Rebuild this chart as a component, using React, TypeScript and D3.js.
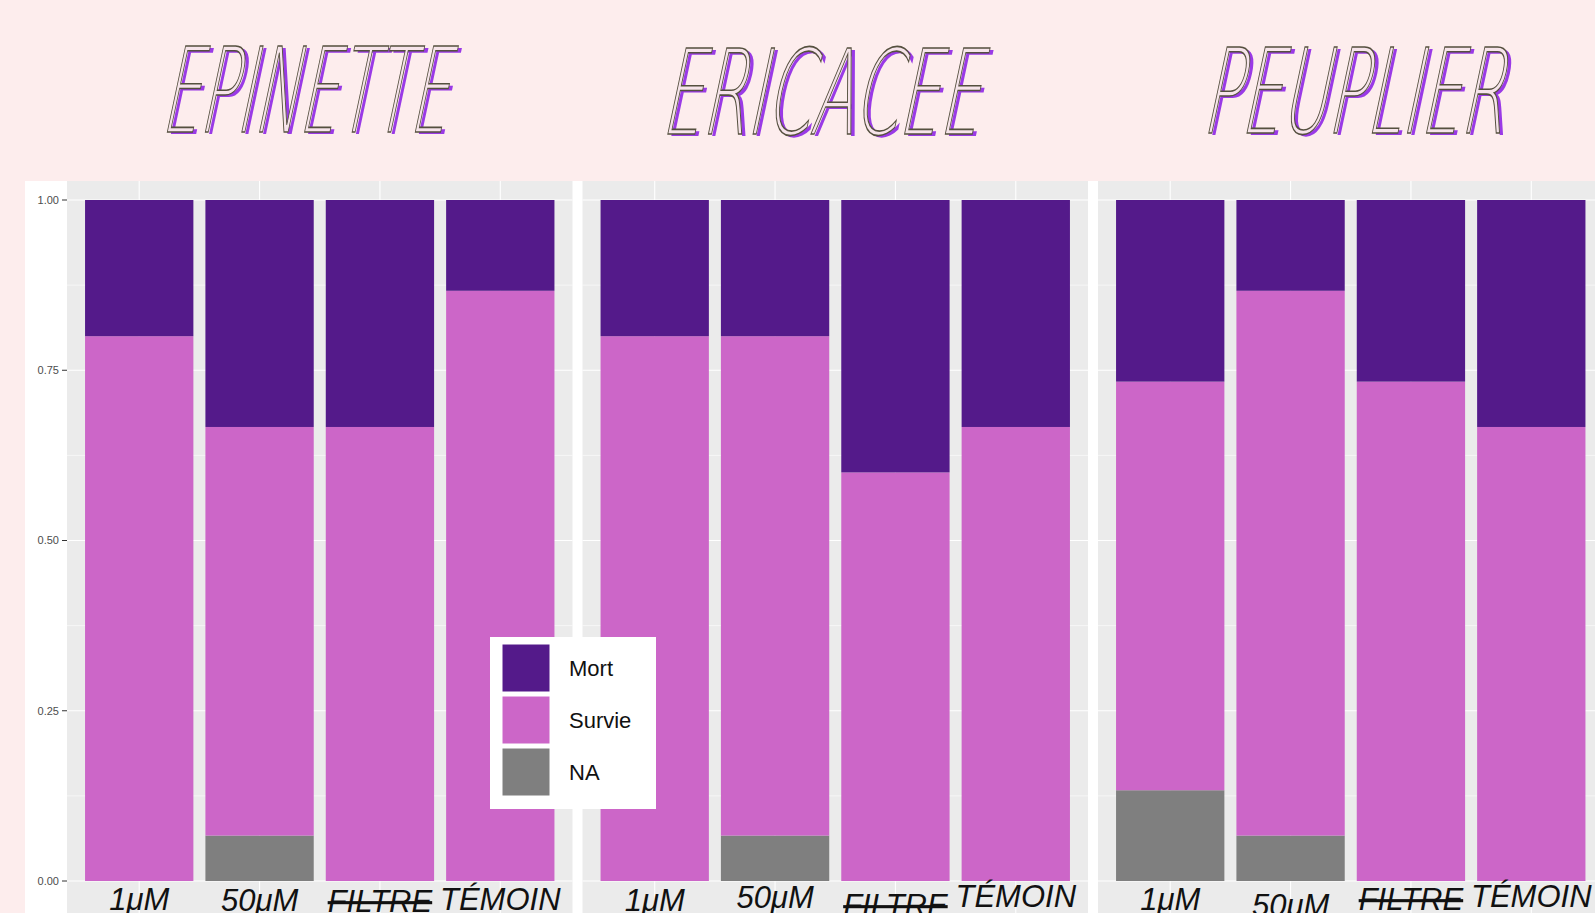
import React from "react";
import * as d3 from "d3";

// facets, categories and proportions
const sites = ["EPINETTE", "ERICACEE", "PEUPLIER"];
const treatments = ["1μM", "50μM", "FILTRE", "TÉMOIN"];
const statuses = ["NA", "Survie", "Mort"]; // bottom to top
const legendOrder = ["Mort", "Survie", "NA"];

const naValues = [
  [0, 0.0667, 0, 0],
  [0, 0.0667, 0, 0],
  [0.1333, 0.0667, 0, 0],
];
const survieValues = [
  [0.8, 0.6, 0.6667, 0.8667],
  [0.8, 0.7333, 0.6, 0.6667],
  [0.6, 0.8, 0.7333, 0.6667],
];
const mortValues = [
  [0.2, 0.3333, 0.3333, 0.1333],
  [0.2, 0.2, 0.4, 0.3333],
  [0.2667, 0.1333, 0.2667, 0.3333],
];
const yTicks = [0, 0.25, 0.5, 0.75, 1];
const yMinor = [0.125, 0.375, 0.625, 0.875];

const colors: Record<string, string> = {
  Mort: "#541a8a",
  Survie: "#cc66c8",
  NA: "#7f7f7f",
};

// title geometry (decorative font stand-in)
const titleBoxes = [
  { x: 160, y: 132, w: 286 },
  { x: 660, y: 134, w: 318 },
  { x: 1201, y: 133, w: 302 },
];
// small vertical nudges of the hand-placed x labels
const labelNudge = [
  [0, 1, 2, 0],
  [1, -2, 6, -3],
  [0, 6, 0, -3],
];

export default function App() {
  const W = 1595;
  const H = 913;
  const panelW = 505.5;
  const gap = 10;
  const panelX0 = 67;
  const panelTop = 181;
  const y = d3.scaleLinear().domain([0, 1]).range([881, 200]);

  const rows = sites.map((s, i) =>
    treatments.map((t, j) => ({
      site: s,
      treatment: t,
      NA: naValues[i][j],
      Survie: survieValues[i][j],
      Mort: mortValues[i][j],
    }))
  );

  const stack = d3.stack<any>().keys(statuses);

  return (
    <svg width={W} height={H} style={{ position: "absolute", left: 0, top: 0 }}>
      <rect x={0} y={0} width={W} height={H} fill="#fdeded" />
      <rect x={25} y={panelTop} width={W - 25} height={H - panelTop} fill="#ffffff" />

      {/* y axis */}
      {yTicks.map((t) => (
        <g key={t}>
          <line x1={62} x2={67} y1={y(t)} y2={y(t)} stroke="#333" strokeWidth={1} />
          <text
            x={59}
            y={y(t)}
            dy="0.35em"
            textAnchor="end"
            fontFamily="Liberation Sans, Arial, sans-serif"
            fontSize={11}
            fill="#4d4d4d"
          >
            {d3.format(".2f")(t)}
          </text>
        </g>
      ))}

      {sites.map((site, i) => {
        const px = panelX0 + i * (panelW + gap);
        const x = d3
          .scaleBand()
          .domain(treatments)
          .range([px, px + panelW])
          .paddingInner(0.1)
          .paddingOuter(0.15);
        const series = stack(rows[i]);
        const tb = titleBoxes[i];
        return (
          <g key={site}>
            <rect x={px} y={panelTop} width={panelW} height={H - panelTop} fill="#ebebeb" />
            {yMinor.map((t) => (
              <line key={t} x1={px} x2={px + panelW} y1={y(t)} y2={y(t)} stroke="#fff" strokeWidth={0.6} />
            ))}
            {yTicks.map((t) => (
              <line key={t} x1={px} x2={px + panelW} y1={y(t)} y2={y(t)} stroke="#fff" strokeWidth={1.1} />
            ))}
            {treatments.map((t) => (
              <line
                key={t}
                x1={x(t)! + x.bandwidth() / 2}
                x2={x(t)! + x.bandwidth() / 2}
                y1={panelTop}
                y2={H}
                stroke="#fff"
                strokeWidth={1.1}
              />
            ))}
            {series.map((s) =>
              s.map((d: any) =>
                d[1] - d[0] > 0 ? (
                  <rect
                    key={s.key + d.data.treatment}
                    x={x(d.data.treatment)}
                    y={y(d[1])}
                    width={x.bandwidth()}
                    height={y(d[0]) - y(d[1])}
                    fill={colors[s.key]}
                  />
                ) : null
              )
            )}
            {treatments.map((t, j) => (
              <text
                key={t}
                x={x(t)! + x.bandwidth() / 2}
                y={910 + labelNudge[i][j]}
                textAnchor="middle"
                fontFamily="Liberation Sans, Arial, sans-serif"
                fontStyle="italic"
                fontSize={31}
                fill="#111"
                textDecoration={t === "FILTRE" ? "line-through" : undefined}
              >
                {t}
              </text>
            ))}

            {/* title */}
            <g transform={`translate(${tb.x},${tb.y}) skewX(-12)`}>
              <text
                x={4}
                y={2}
                fontFamily="DejaVu Sans, sans-serif"
                fontWeight={200}
                fontSize={118}
                textLength={tb.w}
                lengthAdjust="spacingAndGlyphs"
                fill="#9a3ae6"
              >
                {site}
              </text>
              <text
                x={0}
                y={0}
                fontFamily="DejaVu Sans, sans-serif"
                fontWeight={200}
                fontSize={118}
                textLength={tb.w}
                lengthAdjust="spacingAndGlyphs"
                fill="#f6e4ea"
                stroke="#55503f"
                strokeWidth={1.6}
              >
                {site}
              </text>
            </g>
          </g>
        );
      })}

      {/* legend */}
      <g transform="translate(490,637)">
        <rect x={0} y={0} width={166} height={172} fill="#ffffff" />
        {legendOrder.map((k, i) => (
          <g key={k} transform={`translate(12,${7 + i * 52})`}>
            <rect x={0} y={0} width={48} height={48} fill={colors[k]} stroke="#fff" strokeWidth={1} />
            <text
              x={67}
              y={24}
              dy="0.35em"
              fontFamily="Liberation Sans, Arial, sans-serif"
              fontSize={22}
              fill="#111"
            >
              {k}
            </text>
          </g>
        ))}
      </g>
    </svg>
  );
}
